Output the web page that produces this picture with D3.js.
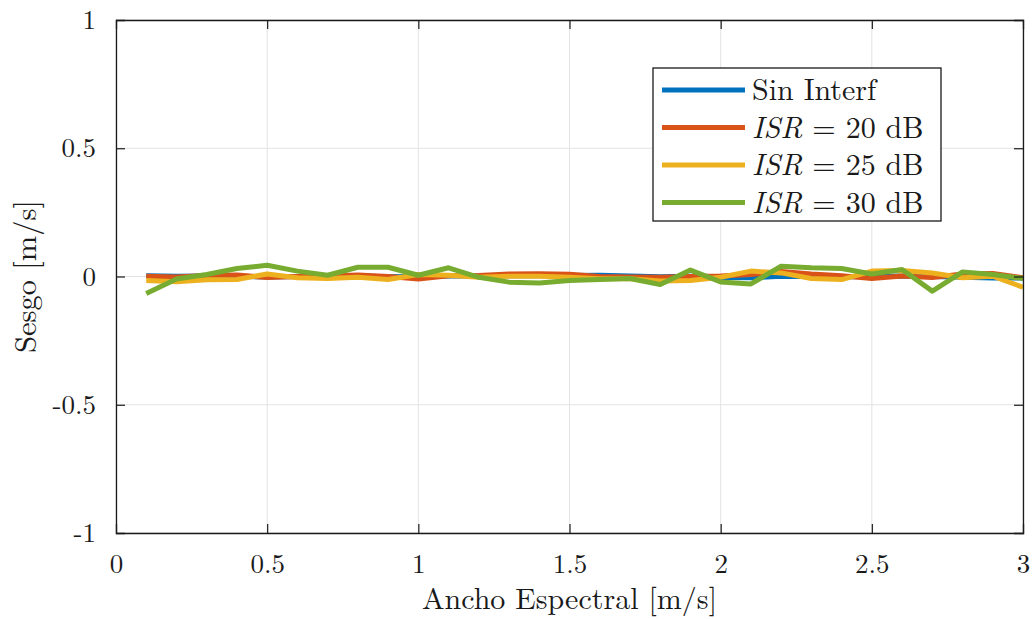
<!DOCTYPE html>
<html>
<head>
<meta charset="utf-8">
<script src="https://cdn.jsdelivr.net/npm/d3@7"></script>
<style>
  html, body { margin: 0; padding: 0; background: #fff; }
</style>
</head>
<body>
<svg id="chart" width="1035" height="619"></svg>
<script>
// Spectral width (m/s)
const anchoEspectral = [0.1,0.2,0.3,0.4,0.5,0.6,0.7,0.8,0.9,1.0,1.1,1.2,1.3,1.4,1.5,1.6,1.7,1.8,1.9,2.0,2.1,2.2,2.3,2.4,2.5,2.6,2.7,2.8,2.9,3.0];

// Bias (m/s) for each interference case
const sinInterf = [0.003,0.001,0.002,0.001,-0.002,0.0,0.001,0.002,-0.001,0.0,0.002,0.002,0.003,0.003,0.004,0.005,0.002,-0.001,0.001,-0.004,-0.005,0.001,0.0,-0.002,0.001,0.002,0.0,-0.003,-0.006,-0.006];
const isr20 = [0.001,-0.002,0.004,0.006,-0.004,0.0,0.002,0.006,0.0,-0.01,0.003,0.004,0.01,0.011,0.009,0.0,-0.002,-0.003,0.0,0.002,0.008,0.02,0.01,0.003,-0.008,0.002,-0.004,0.01,0.012,-0.005];
const isr25 = [-0.016,-0.02,-0.013,-0.012,0.01,-0.005,-0.008,-0.003,-0.012,0.008,0.005,-0.003,0.001,0.001,-0.003,-0.009,-0.009,-0.018,-0.016,-0.003,0.021,0.014,-0.008,-0.012,0.021,0.023,0.014,-0.005,0.001,-0.042];
const isr30 = [-0.066,-0.01,0.008,0.031,0.044,0.021,0.005,0.036,0.036,0.005,0.034,-0.003,-0.022,-0.025,-0.016,-0.012,-0.008,-0.031,0.025,-0.021,-0.029,0.04,0.034,0.031,0.01,0.027,-0.057,0.018,0.008,-0.008];

const seriesNames = ["Sin Interf", "ISR20", "ISR25", "ISR30"];
const seriesColors = ["#0072BD", "#D95319", "#EDB120", "#77AC30"];
const seriesValues = [sinInterf, isr20, isr25, isr30];

const xTicks = [0, 0.5, 1, 1.5, 2, 2.5, 3];
const yTicks = [-1, -0.5, 0, 0.5, 1];

const FONT = "'Latin Modern Roman', 'CMU Serif', 'Liberation Serif', serif";
const INK = "#1a1a1a";

const svg = d3.select("#chart");
const plotL = 116, plotR = 1023, plotT = 20, plotB = 533;

const x = d3.scaleLinear().domain([0, 3]).range([plotL, plotR]);
const y = d3.scaleLinear().domain([-1, 1]).range([plotB, plotT]);

// grid
const grid = svg.append("g").attr("stroke", "#e3e3e3").attr("stroke-width", 1);
grid.selectAll("line.gx").data(xTicks).join("line").attr("class", "gx")
  .attr("x1", d => x(d)).attr("x2", d => x(d)).attr("y1", plotT).attr("y2", plotB);
grid.selectAll("line.gy").data(yTicks).join("line").attr("class", "gy")
  .attr("y1", d => y(d)).attr("y2", d => y(d)).attr("x1", plotL).attr("x2", plotR);

// series
const line = d3.line().x((d, i) => x(anchoEspectral[i])).y(d => y(d));
svg.append("g").selectAll("path").data(seriesValues).join("path")
  .attr("d", d => line(d))
  .attr("fill", "none")
  .attr("stroke", (d, i) => seriesColors[i])
  .attr("stroke-width", 5)
  .attr("stroke-linejoin", "round");

// axes with inward ticks on all four sides
const fmt = d => (d === 0 ? "0" : String(d));
const tickLen = 9;
const axB = svg.append("g").attr("transform", `translate(0,${plotB})`)
  .call(d3.axisBottom(x).tickValues(xTicks).tickSize(-tickLen).tickPadding(tickLen + 12).tickFormat(fmt));
const axT = svg.append("g").attr("transform", `translate(0,${plotT})`)
  .call(d3.axisTop(x).tickValues(xTicks).tickSize(-tickLen).tickFormat(""));
const axL = svg.append("g").attr("transform", `translate(${plotL},0)`)
  .call(d3.axisLeft(y).tickValues(yTicks).tickSize(-tickLen).tickPadding(tickLen + 11).tickFormat(fmt));
const axR = svg.append("g").attr("transform", `translate(${plotR},0)`)
  .call(d3.axisRight(y).tickValues(yTicks).tickSize(-tickLen).tickFormat(""));

[axB, axT, axL, axR].forEach(a => {
  a.select(".domain").attr("stroke", INK).attr("stroke-width", 1.3);
  a.selectAll(".tick line").attr("stroke", INK).attr("stroke-width", 1.2);
  a.selectAll(".tick text").style("font-family", FONT).style("font-size", "27px").attr("fill", INK);
});
axB.selectAll(".tick line").filter(d => d === 0 || d === 3).remove();
axT.selectAll(".tick line").filter(d => d === 0 || d === 3).remove();
axL.selectAll(".tick line").filter(d => d === -1 || d === 1).remove();
axR.selectAll(".tick line").filter(d => d === -1 || d === 1).remove();

// axis titles
svg.append("text").attr("x", (plotL + plotR) / 2).attr("y", 609)
  .attr("text-anchor", "middle").attr("fill", INK)
  .style("font-family", FONT).style("font-size", "30px").text("Ancho Espectral [m/s]");
svg.append("text").attr("transform", `translate(36,${(plotT + plotB) / 2}) rotate(-90)`)
  .attr("text-anchor", "middle").attr("fill", INK)
  .style("font-family", FONT).style("font-size", "30.5px").text("Sesgo [m/s]");

// legend
const lg = svg.append("g");
const lgX = 653, lgY = 68, lgW = 288, lgH = 153;
lg.append("rect").attr("x", lgX).attr("y", lgY).attr("width", lgW).attr("height", lgH)
  .attr("fill", "#fff").attr("stroke", INK).attr("stroke-width", 1.3);
const rowY = [90, 127.5, 165, 202.5];
const legendLabels = [
  [{t: "Sin Interf", it: false}],
  [{t: "ISR", it: true}, {t: " = 20 dB", it: false}],
  [{t: "ISR", it: true}, {t: " = 25 dB", it: false}],
  [{t: "ISR", it: true}, {t: " = 30 dB", it: false}]
];
seriesNames.forEach((name, i) => {
  lg.append("line").attr("x1", 662).attr("x2", 745).attr("y1", rowY[i]).attr("y2", rowY[i])
    .attr("stroke", seriesColors[i]).attr("stroke-width", 5);
  const t = lg.append("text").attr("x", 752).attr("y", rowY[i] + 10).attr("fill", INK)
    .style("font-family", FONT).style("font-size", "30px");
  legendLabels[i].forEach(p => {
    t.append("tspan").style("font-style", p.it ? "italic" : "normal").text(p.t);
  });
});
</script>
</body>
</html>
